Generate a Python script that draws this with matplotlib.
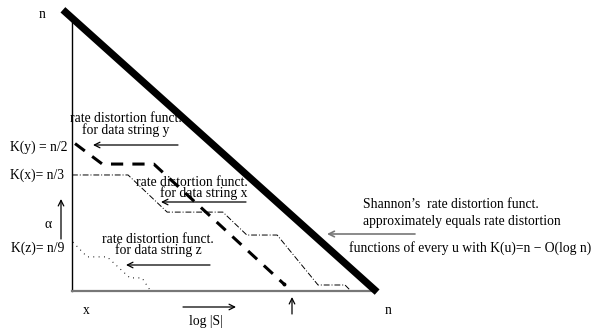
import matplotlib.pyplot as plt

plt.rcParams['font.family'] = ['Liberation Serif', 'DejaVu Serif']

# curves in units of n (x: log|S| axis, y: alpha axis)
shannon_x = [-0.03, 1.007]
shannon_y = [1.03, -0.004]

y_curve_x = [0.01, 0.10, 0.27, 0.70]
y_curve_y = [0.54, 0.465, 0.465, 0.025]

x_curve_x = [0.0, 0.185, 0.314, 0.498, 0.577, 0.677, 0.812, 0.901, 0.917]
x_curve_y = [0.425, 0.425, 0.289, 0.289, 0.205, 0.205, 0.022, 0.022, 0.004]

z_curve_x = [0.003, 0.050, 0.116, 0.191, 0.231, 0.257]
z_curve_y = [0.179, 0.125, 0.125, 0.048, 0.048, 0.004]


def px(x, y):
    # pixel position of the reference -> data units
    return ((x - 72) / 303, (291 - y) / 273)


fig = plt.figure(figsize=(5.97, 3.29), dpi=100)
ax = fig.add_axes([0, 0, 1, 1])
ax.set_xlim(-72 / 303, (597 - 72) / 303)
ax.set_ylim((291 - 329) / 273, 291 / 273)
ax.axis('off')

# axes
ax.plot([0, 0], [0, 1.0], color='black', lw=1.0)
ax.plot([0, 1.0], [0, 0], color='#777777', lw=1.6)

ax.plot(shannon_x, shannon_y, color='black', lw=5.2, solid_capstyle='butt')
ax.plot(y_curve_x, y_curve_y, color='black', lw=2.2, dashes=(4, 3))
ax.plot(y_curve_x[-1], y_curve_y[-1], 'o', color='black', ms=1.8)
ax.plot(x_curve_x, x_curve_y, color='black', lw=0.7, dashes=(6, 2, 1, 2))
ax.plot(z_curve_x, z_curve_y, color='black', lw=0.8, dashes=(0.8, 4))

fs = 9.8
def txt(x, y, s, **kw):
    kw.setdefault('ha', 'center')
    ax.text(*px(x, y), s, va='center', fontsize=fs, **kw)

def arrow(x0, y0, x1, y1, color='black', lw=0.9):
    ax.annotate('', xy=px(x1, y1), xytext=px(x0, y0),
                arrowprops=dict(arrowstyle='->', color=color, lw=lw,
                                shrinkA=0, shrinkB=0))

txt(42, 15, 'n')
txt(67, 147, 'K(y) = n/2', ha='right')
txt(64, 175, 'K(x)= n/3', ha='right')
txt(64, 248, 'K(z)= n/9', ha='right')
txt(48, 225, '\u03b1')
arrow(61, 239, 61, 199)
txt(86, 310, 'x')
txt(206, 322, 'log |S|')
arrow(183, 307, 236, 307)
arrow(292, 314, 292, 297)
txt(388, 310, 'n')

txt(126, 124.5, 'rate distortion funct.\nfor data string y',
    linespacing=0.8, multialignment='center')
arrow(178, 145, 93, 145)

txt(248, 188, 'rate distortion funct.\nfor data string x', ha='right',
    linespacing=0.8, multialignment='right')
arrow(246, 202, 161, 202)

txt(158, 245, 'rate distortion funct.\nfor data string z',
    linespacing=0.8, multialignment='center')
arrow(210, 265, 126, 265)

txt(363, 205, 'Shannon\u2019s  rate distortion funct.', ha='left')
txt(363, 222, 'approximately equals rate distortion', ha='left')
txt(349, 248, 'functions of every u with K(u)=n \u2212 O(log n)', ha='left')
arrow(415, 234, 327, 234, color='#777777', lw=1.2)

fig.savefig('out.png', dpi=100)
